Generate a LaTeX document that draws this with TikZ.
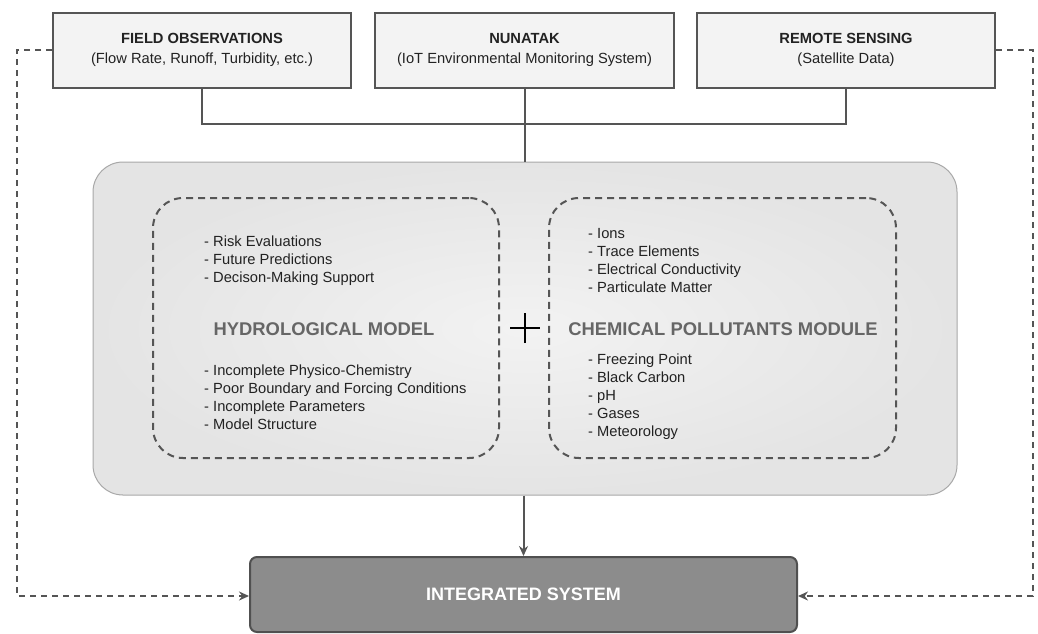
\documentclass[tikz,border=0pt]{standalone}
\usepackage{fontspec}
\setmainfont{Liberation Sans}
\usetikzlibrary{arrows.meta,positioning}
\definecolor{linec}{HTML}{555555}
\definecolor{topfill}{HTML}{F3F3F3}
\definecolor{mainfill}{HTML}{E4E4E4}
\definecolor{mainedge}{HTML}{A8A8A8}
\definecolor{titlec}{HTML}{666666}
\definecolor{intfill}{HTML}{8C8C8C}
\definecolor{intedge}{HTML}{505050}
\definecolor{txt}{HTML}{222222}
\tikzset{
  srcbox/.style={draw=linec, line width=2pt, fill=topfill, minimum width=298pt, minimum height=75pt, inner sep=0pt, align=center, text=txt, font=\fontsize{14.7}{20}\selectfont},
  conn/.style={draw=linec, line width=2pt},
  dconn/.style={draw=linec, line width=2pt, dash pattern=on 6pt off 5pt},
  modbox/.style={draw=linec, line width=2pt, dash pattern=on 7pt off 5pt, rounded corners=30pt, minimum height=260pt, inner sep=0pt},
  listtxt/.style={anchor=west, align=left, inner sep=0pt, text=txt, font=\fontsize{14.7}{18}\selectfont},
  modtitle/.style={inner sep=0pt, text=titlec, font=\fontsize{18.4}{20}\selectfont\bfseries},
  tip/.style={-{Stealth[length=10pt,width=9pt,fill=linec]}}
}
\begin{document}
\begin{tikzpicture}[x=1pt,y=-1pt]
\useasboundingbox (0,0) rectangle (1038,633);
% main box
\node[draw=mainedge, line width=1pt, rounded corners=30pt, minimum width=864pt, minimum height=333pt, inner sep=0pt,
      inner color=white!95!black, outer color=mainfill] (main) at (525,328.5) {};
% source boxes
\node[srcbox] (field) at (202,50) {\textbf{FIELD OBSERVATIONS}\\(Flow Rate, Runoff, Turbidity, etc.)};
\node[srcbox, minimum width=299pt] (nuna) at (524.5,50) {\textbf{NUNATAK}\\(IoT Environmental Monitoring System)};
\node[srcbox] (remote) at (846,50) {\textbf{REMOTE SENSING}\\(Satellite Data)};
% integrated
\node[draw=intedge, line width=2pt, fill=intfill, rounded corners=7pt, minimum width=547pt, minimum height=75pt, inner sep=0pt,
      text=white, font=\fontsize{18}{20}\selectfont\bfseries] (integ) at (523.5,594.5) {INTEGRATED SYSTEM};
% module boxes
\node[modbox, minimum width=346pt] (hyd) at (326,328) {};
\node[modbox, minimum width=347pt] (chem) at (722.5,328) {};
% connectors top
\coordinate (jl) at (field.south |- 0,124);
\coordinate (jr) at (remote.south |- 0,124);
\draw[conn] (field.south) -- (jl) -- (jr) -- (remote.south);
\draw[conn] (nuna.south) -- (nuna.south |- main.north);
% arrow to integrated
\draw[conn, tip] (main.south -| integ.north) -- (integ.north);
% dashed side lines
\coordinate (lt) at (17,50);
\coordinate (lb) at (17,596);
\coordinate (rt) at (1033,50);
\coordinate (rb) at (1033,596);
\draw[dconn, tip] (field.west) -- (lt) -- (lb) -- (integ.west |- lb);
\draw[dconn, tip] (remote.east) -- (rt) -- (rb) -- (integ.east |- rb);
% plus
\coordinate (pc) at (525,328);
\draw[line width=1.4pt, black] ([xshift=-15pt]pc) -- ([xshift=15pt]pc);
\draw[line width=1.4pt, black] ([yshift=-15pt]pc) -- ([yshift=15pt]pc);
% texts
\node[listtxt] (h1) at (204,261) {- Risk Evaluations\\- Future Predictions\\- Decison-Making Support};
\node[modtitle] (ht) at (324,329) {HYDROLOGICAL MODEL};
\node[listtxt] (h2) at (204,397) {- Incomplete Physico-Chemistry\\- Poor Boundary and Forcing Conditions\\- Incomplete Parameters\\- Model Structure};
\node[listtxt] (c1) at (588,261) {- Ions\\- Trace Elements\\- Electrical Conductivity\\- Particulate Matter};
\node[modtitle] (ct) at (723,329) {CHEMICAL POLLUTANTS MODULE};
\node[listtxt] (c2) at (588,397) {- Freezing Point\\- Black Carbon\\- pH\\- Gases\\- Meteorology};
\end{tikzpicture}
\end{document}
